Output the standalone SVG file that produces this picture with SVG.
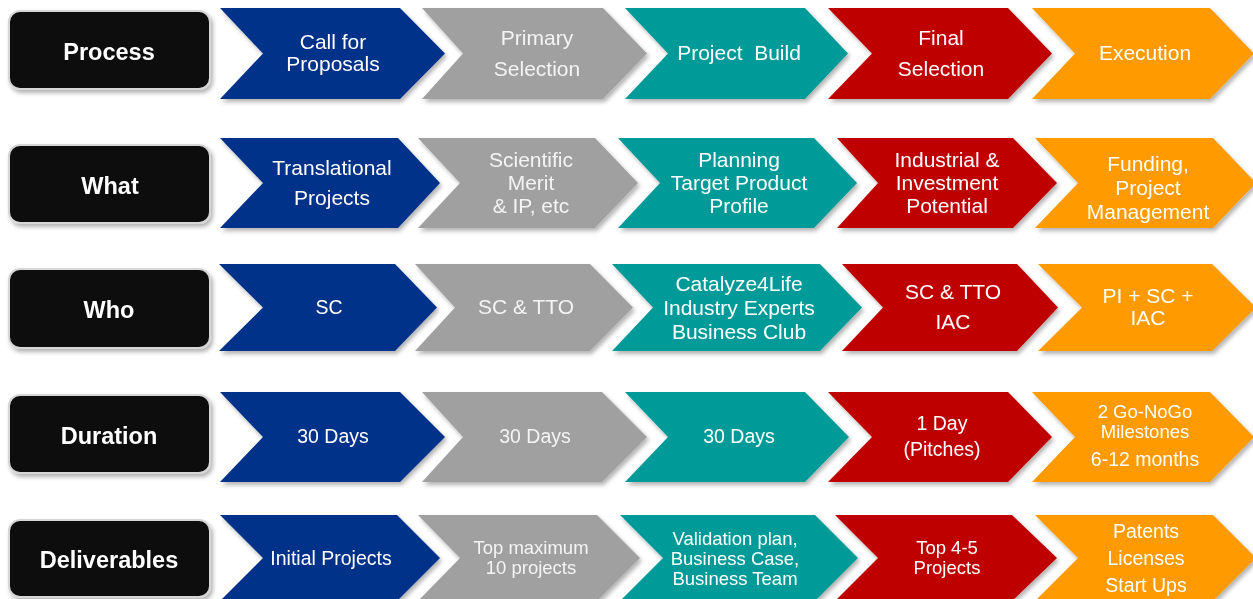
<svg xmlns="http://www.w3.org/2000/svg" width="1253" height="599" viewBox="0 0 1253 599">
  <defs>
    <filter id="shadow" x="-10%" y="-10%" width="125%" height="130%">
      <feDropShadow dx="2" dy="3" stdDeviation="2" flood-color="#000" flood-opacity="0.3"/>
    </filter>
    <style>
      .hdr rect { fill: #0d0d0d; stroke: #d6d6d6; stroke-width: 2; }
      .hdr text { font-family: "Liberation Sans", Arial, sans-serif; font-weight: bold; font-size: 23.5px; fill: #ffffff; text-anchor: middle; }
      .chev { filter: url(#shadow); }
      .chev text { font-family: "Liberation Sans", Arial, sans-serif; font-size: 21px; fill: #ffffff; text-anchor: middle; }
      .chev text.s { font-size: 19.5px; }
      .chev text.xs { font-size: 18.5px; }
      .blue polygon { fill: #02318a; }
      .gray polygon { fill: #a0a0a0; }
      .gray text { fill: #f4f4f4; }
      .teal polygon { fill: #009a98; }
      .red polygon { fill: #bf0000; }
      .orange polygon { fill: #ff9b00; }
    </style>
  </defs>
  <rect width="1253" height="599" fill="#ffffff"/>

  <!-- Row headers -->
  <g id="hdr-process" class="hdr" filter="url(#shadow)">
    <rect x="9" y="11" width="201" height="78" rx="11"/>
    <text x="109" y="60">Process</text>
  </g>
  <g id="hdr-what" class="hdr" filter="url(#shadow)">
    <rect x="9" y="145" width="201" height="78" rx="11"/>
    <text x="110" y="194">What</text>
  </g>
  <g id="hdr-who" class="hdr" filter="url(#shadow)">
    <rect x="9" y="269" width="201" height="79" rx="11"/>
    <text x="109" y="318">Who</text>
  </g>
  <g id="hdr-duration" class="hdr" filter="url(#shadow)">
    <rect x="9" y="395" width="201" height="78" rx="11"/>
    <text x="109" y="444">Duration</text>
  </g>
  <g id="hdr-deliverables" class="hdr" filter="url(#shadow)">
    <rect x="9" y="520" width="201" height="77" rx="11"/>
    <text x="109" y="568">Deliverables</text>
  </g>

  <!-- Row 1: Process -->
  <g id="p1" class="chev blue">
    <polygon points="220,8 400,8 445,53.5 400,99 220,99 263,53.5"/>
    <text x="333" y="49">Call for</text>
    <text x="333" y="71">Proposals</text>
  </g>
  <g id="p2" class="chev gray">
    <polygon points="422,8 603,8 647,53.5 603,99 422,99 463,53.5"/>
    <text x="537" y="45">Primary</text>
    <text x="537" y="76">Selection</text>
  </g>
  <g id="p3" class="chev teal">
    <polygon points="625,8 805,8 848,53.5 805,99 625,99 668,53.5"/>
    <text x="739" y="60" xml:space="preserve">Project  Build</text>
  </g>
  <g id="p4" class="chev red">
    <polygon points="828,8 1008,8 1052,53.5 1008,99 828,99 872,53.5"/>
    <text x="941" y="45">Final</text>
    <text x="941" y="76">Selection</text>
  </g>
  <g id="p5" class="chev orange">
    <polygon points="1032,8 1210,8 1254,53.5 1210,99 1032,99 1075,53.5"/>
    <text x="1145" y="60">Execution</text>
  </g>

  <!-- Row 2: What -->
  <g id="w1" class="chev blue">
    <polygon points="220,138 398,138 440,183 398,228 220,228 263,183"/>
    <text x="332" y="175">Translational</text>
    <text x="332" y="205">Projects</text>
  </g>
  <g id="w2" class="chev gray">
    <polygon points="418,138 595,138 638,183 595,228 418,228 460,183"/>
    <text x="531" y="167">Scientific</text>
    <text x="531" y="190">Merit</text>
    <text x="531" y="213">&amp; IP, etc</text>
  </g>
  <g id="w3" class="chev teal">
    <polygon points="618,138 814,138 857,183 814,228 618,228 660,183"/>
    <text x="739" y="167">Planning</text>
    <text x="739" y="190">Target Product</text>
    <text x="739" y="213">Profile</text>
  </g>
  <g id="w4" class="chev red">
    <polygon points="837,138 1013,138 1057,183 1013,228 837,228 878,183"/>
    <text x="947" y="167">Industrial &amp;</text>
    <text x="947" y="190">Investment</text>
    <text x="947" y="213">Potential</text>
  </g>
  <g id="w5" class="chev orange">
    <polygon points="1035,138 1213,138 1256,183 1213,228 1035,228 1078,183"/>
    <text x="1148" y="171">Funding,</text>
    <text x="1148" y="195">Project</text>
    <text x="1148" y="219">Management</text>
  </g>

  <!-- Row 3: Who -->
  <g id="o1" class="chev blue">
    <polygon points="219,264 395,264 437,307.5 395,351 219,351 263,307.5"/>
    <text class="s" x="329" y="314">SC</text>
  </g>
  <g id="o2" class="chev gray">
    <polygon points="415,264 590,264 633,307.5 590,351 415,351 455,307.5"/>
    <text x="526" y="314">SC &amp; TTO</text>
  </g>
  <g id="o3" class="chev teal">
    <polygon points="612,264 820,264 862,307.5 820,351 612,351 653,307.5"/>
    <text x="739" y="291">Catalyze4Life</text>
    <text x="739" y="315">Industry Experts</text>
    <text x="739" y="339">Business Club</text>
  </g>
  <g id="o4" class="chev red">
    <polygon points="842,264 1017,264 1058,307.5 1017,351 842,351 883,307.5"/>
    <text x="953" y="299">SC &amp; TTO</text>
    <text x="953" y="329">IAC</text>
  </g>
  <g id="o5" class="chev orange">
    <polygon points="1038,264 1212,264 1256,307.5 1212,351 1038,351 1082,307.5"/>
    <text x="1148" y="303">PI + SC +</text>
    <text x="1148" y="325">IAC</text>
  </g>

  <!-- Row 4: Duration -->
  <g id="d1" class="chev blue">
    <polygon points="220,392 400,392 445,437 400,482 220,482 263,437"/>
    <text class="s" x="333" y="443">30 Days</text>
  </g>
  <g id="d2" class="chev gray">
    <polygon points="422,392 602,392 647,437 602,482 422,482 463,437"/>
    <text class="s" x="535" y="443">30 Days</text>
  </g>
  <g id="d3" class="chev teal">
    <polygon points="625,392 805,392 849,437 805,482 625,482 668,437"/>
    <text class="s" x="739" y="443">30 Days</text>
  </g>
  <g id="d4" class="chev red">
    <polygon points="828,392 1008,392 1052,437 1008,482 828,482 872,437"/>
    <text class="s" x="942" y="430">1 Day</text>
    <text class="s" x="942" y="456">(Pitches)</text>
  </g>
  <g id="d5" class="chev orange">
    <polygon points="1032,392 1210,392 1254,437 1210,482 1032,482 1075,437"/>
    <text class="xs" x="1145" y="418">2 Go-NoGo</text>
    <text class="xs" x="1145" y="438">Milestones</text>
    <text class="s" x="1145" y="466">6-12 months</text>
  </g>

  <!-- Row 5: Deliverables -->
  <g id="v1" class="chev blue">
    <polygon points="220,515 397,515 440,558 397,601 220,601 263,558"/>
    <text class="s" x="331" y="565">Initial Projects</text>
  </g>
  <g id="v2" class="chev gray">
    <polygon points="418,515 597,515 640,558 597,601 418,601 460,558"/>
    <text class="xs" x="531" y="554">Top maximum</text>
    <text class="xs" x="531" y="574">10 projects</text>
  </g>
  <g id="v3" class="chev teal">
    <polygon points="620,515 815,515 858,558 815,601 620,601 663,558"/>
    <text class="xs" x="735" y="545">Validation plan,</text>
    <text class="xs" x="735" y="565">Business Case,</text>
    <text class="xs" x="735" y="585">Business Team</text>
  </g>
  <g id="v4" class="chev red">
    <polygon points="835,515 1012,515 1057,558 1012,601 835,601 878,558"/>
    <text class="xs" x="947" y="554">Top 4-5</text>
    <text class="xs" x="947" y="574">Projects</text>
  </g>
  <g id="v5" class="chev orange">
    <polygon points="1035,515 1213,515 1256,558 1213,601 1035,601 1078,558"/>
    <text class="s" x="1146" y="538">Patents</text>
    <text class="s" x="1146" y="565">Licenses</text>
    <text class="s" x="1146" y="592">Start Ups</text>
  </g>
</svg>
